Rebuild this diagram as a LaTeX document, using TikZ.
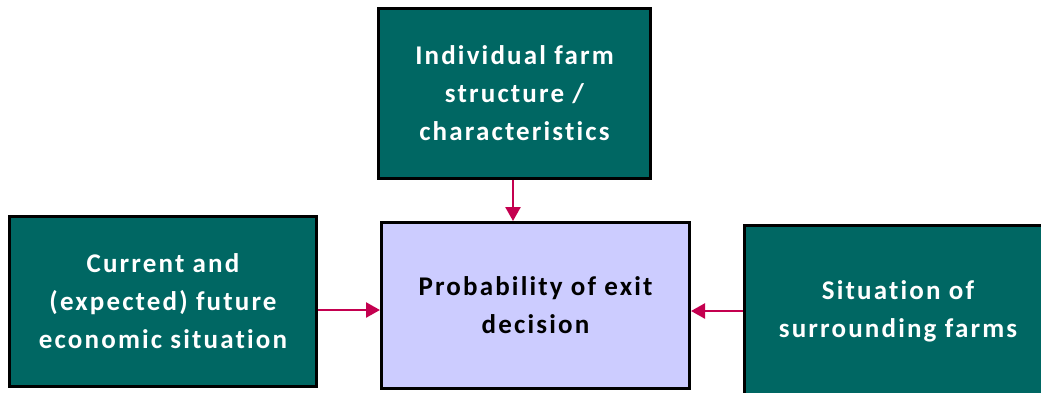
\documentclass[tikz,border=0pt]{standalone}
\usepackage{fontspec}
\setmainfont{Carlito}[Ligatures=NoCommon]
\usetikzlibrary{arrows.meta}
\definecolor{farmteal}{HTML}{006763}
\definecolor{lavender}{HTML}{CCCCFF}
\definecolor{crimson}{HTML}{C4004F}
\begin{document}
\begin{tikzpicture}[x=1pt,y=-1pt,
    factor/.style={draw=black,line width=3pt,fill=farmteal,text=white,align=center,
        font=\bfseries\fontsize{27}{38}\selectfont\addfontfeature{LetterSpace=8}},
    outcome/.style={draw=black,line width=3pt,fill=lavender,text=black,align=center,
        font=\bfseries\fontsize{27}{38}\selectfont\addfontfeature{LetterSpace=8}},
    flow/.style={crimson,line width=2.5pt,-{Triangle[length=14pt,width=15pt]}}]
    \useasboundingbox (0,0) rectangle (1041,392);
    \clip (0,0) rectangle (1041,392);

    \node[factor,minimum width=272pt,minimum height=170pt] (struct) at (514.5,93.5)
        {Individual farm\\structure /\\characteristics};
    \node[factor,minimum width=307pt,minimum height=170pt] (econ) at (163,301.5)
        {Current and\\(expected) future\\economic situation};
    \node[outcome,minimum width=308pt,minimum height=166pt] (exit) at (535.5,305.5)
        {Probability of exit\\decision};
    \node[factor,minimum width=307pt,minimum height=171pt] (neigh) at (898,311)
        {Situation of\\surrounding farms};

    \draw[flow] ([xshift=-1.5pt]struct.south) -- ([xshift=-1.5pt]struct.south |- exit.north);
    \draw[flow] ([yshift=-8.5pt]econ.east) -- ([yshift=-8.5pt]econ.east -| exit.west);
    \draw[flow] (neigh.west) -- (neigh.west -| exit.east);
\end{tikzpicture}
\end{document}
